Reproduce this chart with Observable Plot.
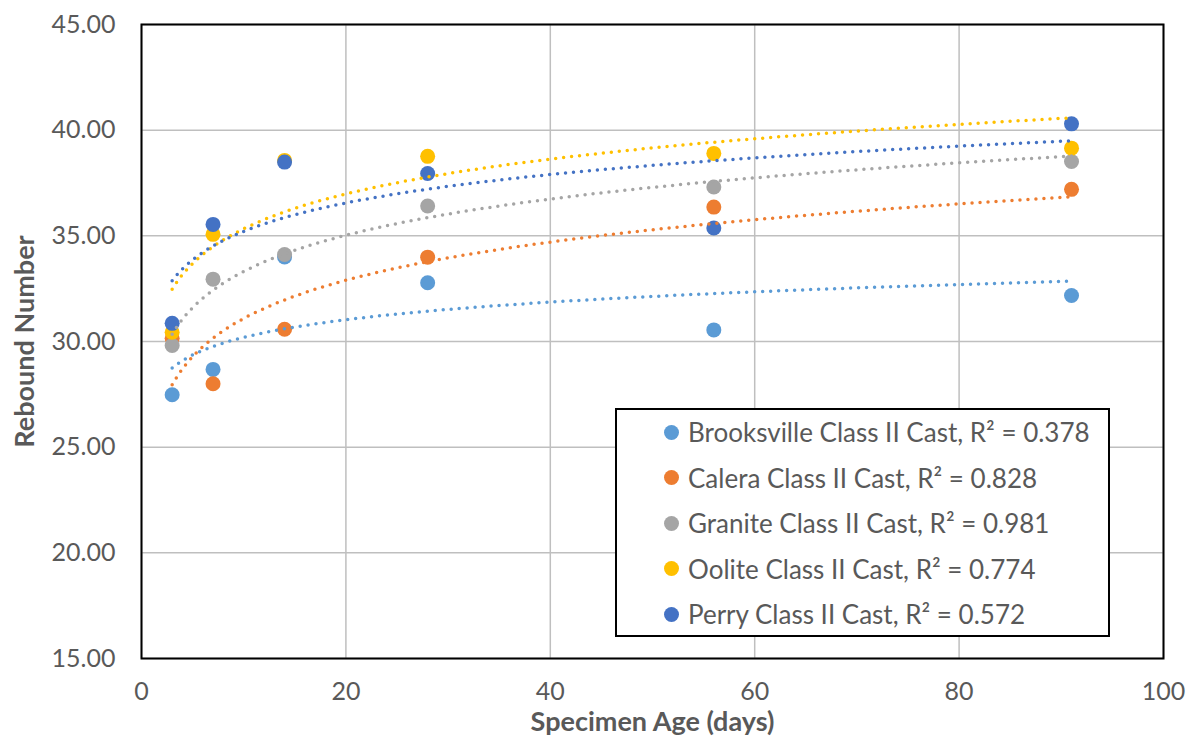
<!DOCTYPE html>
<html>
<head>
<meta charset="utf-8">
<script src="https://cdn.jsdelivr.net/npm/d3@7"></script>
<script src="https://cdn.jsdelivr.net/npm/@observablehq/plot@0.6"></script>
<style>
  html, body { margin: 0; padding: 0; background: white; }
  #wrap { position: relative; width: 1193px; height: 740px; font-family: Lato, "Liberation Sans", sans-serif; }
  #wrap svg g[aria-label$="axis label"] text { font-weight: bold; font-size: 27px; }
  #legend {
    position: absolute; left: 615px; top: 408px; width: 491px; height: 225px;
    border: 2px solid #000; background: #fff; box-sizing: content-box;
  }
  .row { position: absolute; left: 0; height: 40px; display: flex; align-items: center; color: #595959; font-size: 26px; white-space: nowrap; }
  .sw { width: 15px; height: 15px; border-radius: 50%; margin-left: 47px; margin-right: 9px; }
</style>
</head>
<body>
<div id="wrap"></div>
<script>
// ---- data ----
const ages = [3, 7, 14, 28, 56, 91];
const seriesNames = ["Brooksville Class II Cast", "Calera Class II Cast", "Granite Class II Cast", "Oolite Class II Cast", "Perry Class II Cast"];
const brooksville = [27.48, 28.68, 34.00, 32.78, 30.55, 32.18];
const calera      = [30.15, 28.00, 30.58, 33.99, 36.36, 37.20];
const granite     = [29.81, 32.95, 34.12, 36.41, 37.31, 38.52];
const oolite      = [30.44, 35.07, 38.57, 38.76, 38.90, 39.15];
const perry       = [30.86, 35.54, 38.49, 37.95, 35.37, 40.30];
const rSquared = ["0.378", "0.828", "0.981", "0.774", "0.572"];
const colors = ["#5B9BD5", "#ED7D31", "#A5A5A5", "#FFC000", "#4472C4"];
const xTicks = [0, 20, 40, 60, 80, 100];
const yTicks = [15, 20, 25, 30, 35, 40, 45];

const values = [brooksville, calera, granite, oolite, perry];

// table of points
const points = [];
values.forEach((vals, si) => vals.forEach((v, i) => points.push({series: seriesNames[si], age: ages[i], value: v})));

// logarithmic trendlines (least squares on ln(age)), as Excel does
const trends = [];
values.forEach((vals, si) => {
  const lx = ages.map(Math.log);
  const mx = d3.mean(lx), my = d3.mean(vals);
  const sxy = d3.sum(lx, (l, i) => (l - mx) * (vals[i] - my));
  const sxx = d3.sum(lx, l => (l - mx) ** 2);
  const b = sxy / sxx, a = my - b * mx;
  const x0 = d3.min(ages), x1 = d3.max(ages);
  for (let k = 0; k <= 300; k++) {
    const x = x0 + (x1 - x0) * k / 300;
    trends.push({series: seriesNames[si], age: x, value: a + b * Math.log(x)});
  }
});

const color = {domain: seriesNames, range: colors};

const chart = Plot.plot({
  width: 1193,
  height: 740,
  marginLeft: 141,
  marginRight: 30,
  marginTop: 24,
  marginBottom: 82,
  style: {fontFamily: "Lato, 'Liberation Sans', sans-serif", fontSize: "25px", color: "#595959", background: "white", overflow: "visible"},
  x: {domain: [0, 100]},
  y: {domain: [15, 45]},
  color,
  marks: [
    Plot.gridX(xTicks, {stroke: "#BFBFBF", strokeOpacity: 1, strokeWidth: 1.5}),
    Plot.gridY(yTicks, {stroke: "#BFBFBF", strokeOpacity: 1, strokeWidth: 1.5}),
    Plot.axisX({ticks: xTicks, tickSize: 0, tickPadding: 24, fontSize: 25,
      label: "Specimen Age (days)", labelAnchor: "center", labelArrow: "none", labelOffset: 72}),
    Plot.axisY({ticks: yTicks, tickSize: 0, tickPadding: 26, fontSize: 25, tickFormat: d3.format(".2f"),
      label: "Rebound Number", labelAnchor: "center", labelArrow: "none", labelOffset: 127}),
    Plot.dot(points, {x: "age", y: "value", fill: "series", r: 7.5}),
    Plot.line(trends, {x: "age", y: "value", z: "series", stroke: "series", strokeWidth: 3.5,
      strokeDasharray: "0 8", strokeLinecap: "round"}),
    Plot.frame({stroke: "#000", strokeWidth: 2})
  ]
});

const wrap = document.getElementById("wrap");
wrap.appendChild(chart);

// legend overlay
const legend = document.createElement("div");
legend.id = "legend";
seriesNames.forEach((name, i) => {
  const row = document.createElement("div");
  row.className = "row";
  row.style.top = (2 + i * 45.5) + "px";
  const sw = document.createElement("span");
  sw.className = "sw";
  sw.style.background = colors[i];
  const t = document.createElement("span");
  t.textContent = `${name}, R² = ${rSquared[i]}`;
  row.appendChild(sw);
  row.appendChild(t);
  legend.appendChild(row);
});
wrap.appendChild(legend);
</script>
</body>
</html>
